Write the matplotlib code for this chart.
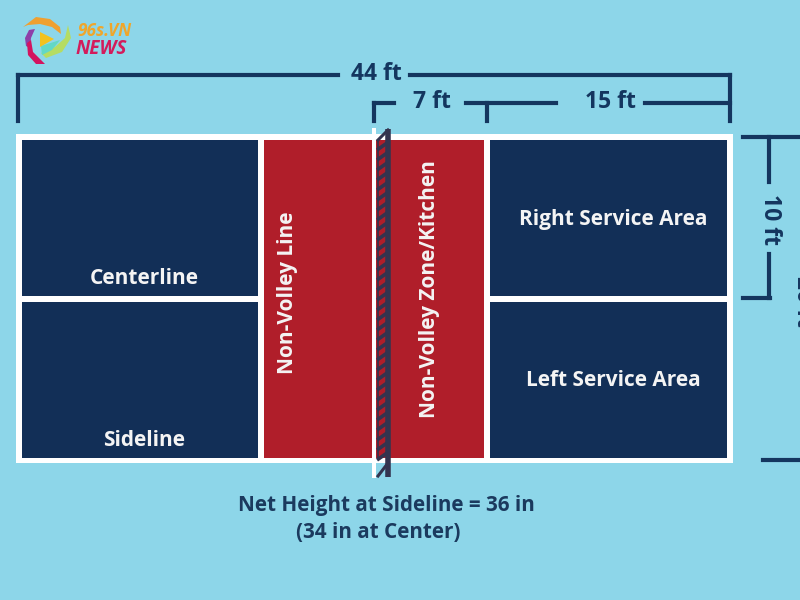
import matplotlib
matplotlib.use('Agg')
import matplotlib.pyplot as plt
from matplotlib.patches import Rectangle, Polygon

plt.rcParams['font.family'] = ['Open Sans', 'DejaVu Sans']

BG = '#8DD6E9'
NAVY = '#122F57'
LINE = '#14365F'
RED = '#B01E2A'
NET = '#33344F'

################  Court data (picture pixels)  ################

navy_x = [22, 22, 490, 490]
navy_y = [140, 302, 140, 302]
navy_w = [236, 236, 237, 237]
navy_h = [156, 156, 156, 156]

red_x = [264, 376]
red_w = [108, 108]

rung_y = [146, 156, 166, 176, 186, 196, 206, 216, 226, 236, 246, 256, 266, 276, 286, 296,
          306, 316, 326, 336, 346, 356, 366, 376, 386, 396, 406, 416, 426, 436, 446, 456]

white_labels = ['Centerline', 'Sideline', 'Right Service Area', 'Left Service Area']
white_label_x = [144, 144, 613, 613]
white_label_y = [279, 441, 220, 381]

red_labels = ['Non-Volley Line', 'Non-Volley Zone/Kitchen']
red_label_x = [287, 429]
red_label_y = [293, 289]

# dimension lines: x0, y0, x1, y1
dim_lines = [
    (18, 75, 338, 75), (410, 75, 730, 75), (18, 75, 18, 121), (730, 75, 730, 121),
    (374, 103, 394, 103), (374, 103, 374, 121), (466, 103, 556, 103), (487, 103, 487, 121),
    (645, 103, 730, 103),
    (743, 137, 800, 137), (769, 137, 769, 182), (769, 254, 769, 298), (743, 298, 770, 298),
    (763, 460, 800, 460),
]

# logo brush strokes, outline points and colour
logo_strokes = [
    ([(23, 27), (36, 17), (50, 19), (60, 27), (61, 34), (52, 27), (40, 24), (28, 25)], '#EFA030'),
    ([(68, 25), (71, 38), (62, 52), (46, 58), (41, 53), (55, 47), (65, 38)], '#B5DC63'),
    ([(41, 46), (60, 40), (52, 50), (42, 55)], '#62D8C6'),
    ([(29, 30), (35, 29), (31, 38), (30, 48), (26, 46), (25, 38)], '#8E3FA8'),
    ([(27, 43), (31, 40), (33, 52), (45, 64), (36, 64), (28, 55)], '#D3145F'),
    ([(40, 32), (40, 47), (54, 39)], '#F3C21E'),
]

fig = plt.figure(figsize=(8, 6), dpi=100, facecolor=BG)
ax = fig.add_axes([0, 0, 1, 1])
ax.set_xlim(0, 800)
ax.set_ylim(600, 0)
ax.axis('off')

####################  Court  ######################

ax.add_patch(Rectangle((16, 134), 717, 329, color='white', lw=0))
for x, y, w, h in zip(navy_x, navy_y, navy_w, navy_h):
    ax.add_patch(Rectangle((x, y), w, h, color=NAVY, lw=0))
for x, w in zip(red_x, red_w):
    ax.add_patch(Rectangle((x, 140), w, 318, color=RED, lw=0))

# net
ax.add_patch(Rectangle((372, 128), 4, 350, color='white', lw=0))
ax.plot([387.5, 387.5], [129, 477], color=NET, lw=4, solid_capstyle='butt')
ax.plot([378, 378], [140, 458], color=NET, lw=1.2, solid_capstyle='butt')
for y in rung_y:
    ax.plot([377, 387], [y + 4, y - 3], color=NET, lw=2.6, solid_capstyle='butt')
ax.plot([378, 388], [140, 130], color=NET, lw=2.2)
ax.plot([378, 388], [476, 463], color=NET, lw=2.2)

####################  Dimension lines  ######################

for x0, y0, x1, y1 in dim_lines:
    ax.plot([x0, x1], [y0, y1], color=LINE, lw=3, solid_capstyle='projecting')

####################  Text  ######################

for s, x, y in zip(white_labels, white_label_x, white_label_y):
    ax.text(x, y, s, color='#F4F4F4', fontsize=15, fontweight='bold', ha='center', va='center')
for s, x, y in zip(red_labels, red_label_x, red_label_y):
    ax.text(x, y, s, color='#F4F4F4', fontsize=15, fontweight='bold', ha='center', va='center', rotation=90)

dim_style = dict(color=LINE, fontsize=16.5, fontweight='bold', ha='center', va='center')
ax.text(376, 74, '44 ft', **dim_style)
ax.text(432, 102, '7 ft', **dim_style)
ax.text(610, 102, '15 ft', **dim_style)
ax.text(770, 220, '10 ft', rotation=-90, **dim_style)
ax.text(791, 301, '20 ft', rotation=-90, color=LINE, fontsize=16.5, fontweight='bold', ha='left', va='center')
ax.text(-6, 302, 'Baseline', rotation=90, color=LINE, fontsize=16, fontweight='bold', ha='center', va='center')

ax.text(386, 505, 'Net Height at Sideline = 36 in', color='#1B3A5E', fontsize=14.9, fontweight='bold', ha='center', va='center')
ax.text(378, 532, '(34 in at Center)', color='#1B3A5E', fontsize=14.9, fontweight='bold', ha='center', va='center')

####################  Logo  ######################

for pts, col in logo_strokes:
    ax.add_patch(Polygon(pts, color=col, lw=0))
ax.text(77, 31, '96s.VN', color='#F0A62A', fontsize=12.4, fontweight='bold', style='italic', ha='left', va='center')
ax.text(76, 48.5, 'NEWS', color='#D31B5B', fontsize=13.6, fontweight='bold', style='italic', ha='left', va='center')

fig.savefig('out.png', dpi=100, facecolor=BG)
